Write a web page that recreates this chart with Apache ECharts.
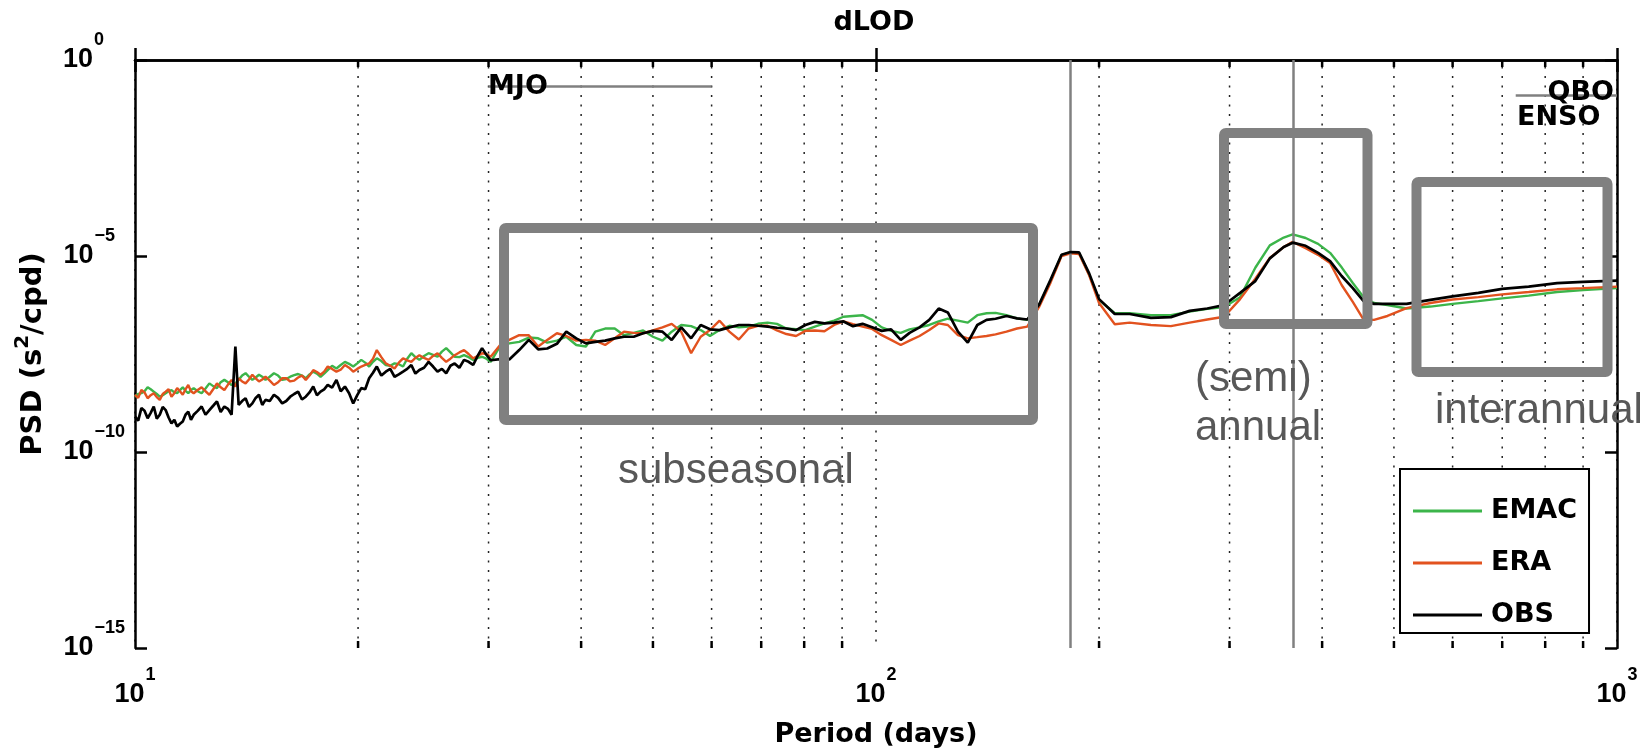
<!DOCTYPE html>
<html>
<head>
<meta charset="utf-8">
<title>dLOD</title>
<script src="https://cdn.jsdelivr.net/npm/echarts@6.0.0/dist/echarts.min.js"></script>
<style>
  html, body { margin: 0; padding: 0; background: #fff; }
  #chart { width: 1652px; height: 755px; }
</style>
</head>
<body>
<div id="chart"></div>
<script>
// period axis (days), shared by the three spectra
const periodDays = [
  10.0, 10.1, 10.2, 10.3, 10.4, 10.5, 10.6, 10.7, 10.8, 10.9, 11.0, 11.1, 11.2, 11.3, 11.4, 11.5, 11.6, 11.7, 11.8, 11.9, 12.0,
  12.15, 12.3, 12.45, 12.6, 12.75, 12.9, 13.05, 13.2, 13.35, 13.5, 13.66, 13.8,
  13.95, 14.1, 14.25, 14.4, 14.55, 14.7, 14.85, 15.0,
  15.2, 15.4, 15.6, 15.8, 16.0, 16.2, 16.4, 16.6, 16.8, 17.0, 17.2, 17.4, 17.6, 17.8, 18.0, 18.2,
  18.45, 18.7, 18.95, 19.2, 19.45, 19.7, 19.95, 20.2, 20.45, 20.7, 20.95, 21.2,
  21.5, 21.8, 22.1, 22.4, 22.7, 23.0, 23.3, 23.6, 23.9, 24.2,
  24.55, 24.9, 25.25, 25.6, 25.95, 26.3, 26.65, 27.0,
  27.4, 27.8, 28.2, 28.6, 29.0, 29.4, 29.8, 30.2,
  31.1, 32.0, 33.0, 34.0, 35.0, 36.0, 37.1, 38.2, 39.4, 40.6, 41.8, 43.1, 44.4, 45.7, 47.1, 48.5, 50.0, 51.5,
  53.0, 54.6, 56.3, 58.0, 59.7, 61.5, 63.4, 65.3, 67.3, 69.3, 71.4, 73.5, 75.7, 78.0, 80.3, 82.7, 85.2, 87.8,
  90.4, 93.1, 95.9, 98.8, 101.8, 104.8, 108, 111, 114.5, 118, 121.5, 125, 129, 133, 137, 141, 145, 150, 155, 160,
  166, 172, 178, 183, 188, 194, 200, 210, 220, 235, 250, 265, 280, 295, 310, 325, 340, 355, 365, 380, 395,
  410, 425, 440, 455, 470, 490, 520, 560, 600, 650, 700, 760, 830, 900, 1000
];

// log10 of PSD (s^2/cpd)
const emacLog10Psd = [
  -8.59, -8.52, -8.50, -8.45, -8.35, -8.40, -8.46, -8.52, -8.59, -8.55, -8.50, -8.45, -8.42, -8.48, -8.50, -8.42, -8.35, -8.44, -8.50, -8.42, -8.37,
  -8.45, -8.50, -8.38, -8.25, -8.32, -8.37, -8.22, -8.16, -8.22, -8.29, -8.25, -8.16,
  -8.05, -7.99, -8.08, -8.16, -8.10, -8.03, -8.08, -8.16,
  -8.08, -7.99, -8.05, -8.16, -8.14, -8.08, -8.04, -8.01, -8.05, -8.12, -8.02, -7.95, -8.00, -8.08, -8.00, -7.91,
  -7.80, -7.87, -7.78, -7.70, -7.75, -7.82, -7.74, -7.65, -7.72, -7.82, -7.70, -7.61,
  -7.68, -7.78, -7.80, -7.74, -7.76, -7.82, -7.62, -7.48, -7.58, -7.65,
  -7.55, -7.48, -7.52, -7.57, -7.44, -7.35, -7.46, -7.57,
  -7.58, -7.53, -7.58, -7.65, -7.60, -7.57, -7.62, -7.70,
  -7.30, -7.23, -7.19, -7.08, -7.10, -7.21, -7.16, -7.06, -7.27, -7.31, -6.93, -6.85, -6.85, -7.02, -6.96, -6.90, -7.06, -7.16,
  -6.93, -6.76, -6.79, -6.89, -7.04, -6.89, -6.78, -6.82, -6.80, -6.73, -6.70, -6.73, -6.85, -6.87, -6.89, -6.80, -6.72, -6.65,
  -6.55, -6.53, -6.51, -6.63, -6.82, -6.91, -6.96, -6.87, -6.82, -6.76, -6.67, -6.60, -6.65, -6.70, -6.51, -6.46, -6.45, -6.51, -6.59, -6.63,
  -6.25, -5.63, -4.98, -4.90, -4.93, -5.48, -6.12, -6.46, -6.46, -6.51, -6.51, -6.42, -6.35, -6.30, -6.05, -5.30, -4.73, -4.53, -4.45, -4.54, -4.69,
  -4.92, -5.29, -5.69, -6.05, -6.20, -6.25, -6.34, -6.29, -6.22, -6.15, -6.08, -6.01, -5.92, -5.87, -5.82
];

const eraLog10Psd = [
  -8.54, -8.62, -8.42, -8.48, -8.63, -8.55, -8.50, -8.60, -8.67, -8.52, -8.46, -8.40, -8.59, -8.50, -8.37, -8.45, -8.54, -8.40, -8.29, -8.45, -8.50,
  -8.42, -8.35, -8.45, -8.54, -8.40, -8.25, -8.35, -8.42, -8.28, -8.16, -8.33, -8.12,
  -8.20, -8.25, -8.15, -8.03, -8.12, -8.20, -8.15, -8.08,
  -8.18, -8.29, -8.22, -8.12, -8.12, -8.20, -8.18, -8.10, -8.05, -8.16, -8.05, -7.91, -7.96, -8.03, -7.95, -7.82,
  -7.88, -7.95, -7.90, -7.78, -7.85, -7.95, -7.88, -7.82, -7.78, -7.74, -7.62, -7.40,
  -7.58, -7.74, -7.80, -7.87, -7.72, -7.61, -7.66, -7.70, -7.60, -7.53,
  -7.60, -7.65, -7.55, -7.48, -7.60, -7.70, -7.62, -7.53,
  -7.46, -7.40, -7.50, -7.61, -7.55, -7.48, -7.50, -7.57,
  -7.27, -7.14, -7.02, -7.02, -7.31, -7.14, -6.97, -7.04, -7.16, -7.14, -7.16, -7.27, -7.10, -6.93, -6.96, -6.97, -6.90, -6.82,
  -6.73, -6.93, -7.48, -7.06, -6.89, -6.65, -6.93, -7.13, -6.85, -6.78, -6.78, -6.90, -6.99, -7.04, -6.91, -6.90, -6.92, -6.76,
  -6.67, -6.74, -6.80, -6.86, -7.02, -7.14, -7.27, -7.16, -7.04, -6.89, -6.72, -6.76, -7.02, -7.10, -7.07, -7.04, -7.00, -6.93, -6.85, -6.80,
  -6.30, -5.68, -5.00, -4.93, -4.95, -5.50, -6.20, -6.74, -6.70, -6.76, -6.79, -6.70, -6.62, -6.55, -6.10, -5.58, -5.05, -4.77, -4.64, -4.80, -4.97,
  -5.18, -5.74, -6.17, -6.62, -6.63, -6.53, -6.33, -6.20, -6.11, -6.05, -5.98, -5.92, -5.85, -5.82, -5.78
];

const obsLog10Psd = [
  -9.10, -9.20, -8.88, -8.95, -9.14, -9.00, -8.84, -9.15, -9.05, -8.85, -8.93, -9.12, -9.27, -9.18, -9.35, -9.28, -9.22, -9.05, -8.97, -9.18, -9.05,
  -8.95, -8.84, -9.05, -8.93, -8.82, -8.71, -8.98, -8.84, -8.90, -9.05, -7.31, -8.80,
  -8.70, -8.63, -8.85, -8.76, -8.62, -8.54, -8.80, -8.67,
  -8.70, -8.54, -8.62, -8.76, -8.70, -8.59, -8.52, -8.46, -8.66, -8.59, -8.48, -8.33, -8.55, -8.46, -8.40, -8.29,
  -8.36, -8.16, -8.45, -8.33, -8.50, -8.76, -8.55, -8.37, -8.40, -8.12, -7.98, -7.82,
  -8.05, -7.95, -7.88, -8.08, -8.02, -7.95, -7.88, -7.78, -8.00, -7.91,
  -7.85, -7.70, -7.82, -7.95, -7.88, -7.99, -7.80, -7.74,
  -7.85, -7.65, -7.70, -7.78, -7.55, -7.35, -7.52, -7.66,
  -7.63, -7.64, -7.40, -7.14, -7.38, -7.36, -7.24, -6.93, -7.10, -7.23, -7.19, -7.16, -7.10, -7.06, -7.06, -6.97, -6.91, -6.93,
  -7.14, -6.82, -7.10, -6.76, -6.87, -6.89, -6.82, -6.76, -6.76, -6.78, -6.80, -6.83, -6.85, -6.89, -6.76, -6.68, -6.72, -6.70,
  -6.67, -6.79, -6.73, -6.82, -6.91, -6.87, -7.14, -6.96, -6.82, -6.63, -6.34, -6.44, -6.93, -7.21, -6.76, -6.63, -6.60, -6.53, -6.59, -6.62,
  -6.24, -5.61, -4.97, -4.90, -4.91, -5.45, -6.10, -6.48, -6.48, -6.58, -6.56, -6.40, -6.34, -6.25, -5.94, -5.64, -5.06, -4.77, -4.66, -4.74, -4.92,
  -5.13, -5.51, -5.82, -6.15, -6.22, -6.22, -6.22, -6.12, -6.03, -5.94, -5.84, -5.78, -5.69, -5.66, -5.63
];

// minor period gridlines
const minorTickPeriods = [20, 30, 40, 50, 60, 70, 80, 90, 200, 300, 400, 500, 600, 700, 800, 900];

// reference periods (days)
const semiannualPeriod = 182.625;
const annualPeriod = 365.25;
const mjoBand = [30, 60];
const ensoBand = [730, 1000];

const seriesNames = ['EMAC', 'ERA', 'OBS'];
const seriesColors = ['#3cb54a', '#e2521f', '#000000'];

const LABEL_FONT = 'DejaVu Sans';
const NUM_FONT = 'Liberation Sans';

function pairs(vals) {
  return periodDays.map((p, i) => [p, vals[i]]);
}

function expStyle(padRight) {
  return {
    fontFamily: NUM_FONT, fontWeight: 'bold', fontSize: 18, color: '#000',
    lineHeight: 18, verticalAlign: 'top', padding: [0, padRight, 0, 1]
  };
}

const baseStyle = { fontFamily: NUM_FONT, fontWeight: 'bold', fontSize: 27, color: '#000', lineHeight: 58 };

function yTickLabel(v) {
  if (v === 0) return '{b|10}{e1|0}';
  if (v === -5) return '{b|10}{e2|\u22125}';
  return '{b|10}{e3|\u2212' + Math.abs(v) + '}';
}

const el = document.getElementById('chart');
const chart = echarts.init(el, null, { renderer: 'canvas' });

const axisLineStyle = { color: '#000', width: 2.5 };

chart.setOption({
  animation: false,
  legend: {
    orient: 'vertical',
    left: 1400,
    top: 469,
    data: seriesNames.map(n => ({ name: n, icon: 'rect' })),
    itemWidth: 69,
    itemHeight: 3,
    itemGap: 22,
    padding: [27, 12, 3, 13],
    backgroundColor: '#fff',
    borderColor: '#000',
    borderWidth: 2,
    selectedMode: false,
    textStyle: { fontFamily: LABEL_FONT, fontWeight: 'bold', fontSize: 27, color: '#000', lineHeight: 30, padding: [0, 0, 0, 4] }
  },
  grid: { left: 135, right: 35, top: 60, bottom: 107, containLabel: false },
  xAxis: [
    {
      type: 'log', logBase: 10, min: 10, max: 1000, position: 'bottom',
      name: 'Period (days)', nameLocation: 'middle', nameGap: 73,
      nameTextStyle: { fontFamily: LABEL_FONT, fontWeight: 'bold', fontSize: 27, color: '#000' },
      axisLine: { lineStyle: axisLineStyle },
      axisTick: { inside: true, length: 12, lineStyle: axisLineStyle },
      axisLabel: {
        margin: 18,
        formatter: v => '{b|10}{s|' + Math.round(Math.log10(v)) + '}',
        rich: { b: baseStyle, s: expStyle(0) }
      },
      splitLine: { show: true, lineStyle: { color: '#222', width: 1.5, type: [2, 7.5] } }
    },
    {
      type: 'log', logBase: 10, min: 10, max: 1000, position: 'top',
      axisLine: { lineStyle: axisLineStyle },
      axisTick: { inside: true, length: 12, lineStyle: axisLineStyle },
      axisLabel: { show: false },
      splitLine: { show: false }
    }
  ],
  yAxis: [
    {
      type: 'value', min: -15, max: 0, interval: 5, position: 'left',
      name: '{n|PSD (s}{s|2}{n|/cpd)}', nameLocation: 'middle', nameRotate: 90, nameGap: 82,
      nameTextStyle: {
        rich: {
          n: { fontFamily: LABEL_FONT, fontWeight: 'bold', fontSize: 29, color: '#000', lineHeight: 40 },
          s: { fontFamily: LABEL_FONT, fontWeight: 'bold', fontSize: 20, color: '#000', lineHeight: 20, verticalAlign: 'top' }
        }
      },
      axisLine: { lineStyle: axisLineStyle },
      axisTick: { inside: true, length: 12, lineStyle: axisLineStyle },
      axisLabel: {
        margin: 10,
        formatter: yTickLabel,
        rich: { b: baseStyle, e1: expStyle(21), e2: expStyle(10), e3: expStyle(0) }
      },
      splitLine: { show: false }
    },
    {
      type: 'value', min: -15, max: 0, interval: 5, position: 'right',
      axisLine: { lineStyle: axisLineStyle },
      axisTick: { inside: true, length: 12, lineStyle: axisLineStyle },
      axisLabel: { show: false },
      splitLine: { show: false }
    }
  ],
  series: [
    {
      type: 'custom',
      name: 'minor',
      silent: true,
      z: 1,
      data: minorTickPeriods.map(p => [p, -15]),
      encode: { x: 0, y: 1 },
      renderItem: (params, api) => {
        const p = api.value(0);
        const top = api.coord([p, 0]);
        const bot = api.coord([p, -15]);
        const x = top[0];
        return {
          type: 'group',
          children: [
            { type: 'line', shape: { x1: x, y1: bot[1], x2: x, y2: top[1] }, style: { stroke: '#222', lineWidth: 1.5, lineDash: [2, 7.5] } },
            { type: 'line', shape: { x1: x, y1: bot[1], x2: x, y2: bot[1] - 7 }, style: { stroke: '#000', lineWidth: 2.5 } },
            { type: 'line', shape: { x1: x, y1: top[1], x2: x, y2: top[1] + 7 }, style: { stroke: '#000', lineWidth: 2.5 } }
          ]
        };
      }
    },
    {
      name: 'EMAC', type: 'line', data: pairs(emacLog10Psd), symbol: 'none', z: 3,
      lineStyle: { color: seriesColors[0], width: 2.4 }, itemStyle: { color: seriesColors[0] }
    },
    {
      name: 'ERA', type: 'line', data: pairs(eraLog10Psd), symbol: 'none', z: 4,
      lineStyle: { color: seriesColors[1], width: 2.4 }, itemStyle: { color: seriesColors[1] }
    },
    {
      name: 'OBS', type: 'line', data: pairs(obsLog10Psd), symbol: 'none', z: 5,
      lineStyle: { color: seriesColors[2], width: 2.7 }, itemStyle: { color: seriesColors[2] },
      markLine: {
        silent: true,
        symbol: ['none', 'none'],
        label: { show: false },
        lineStyle: { color: '#808080', width: 2.5, type: 'solid' },
        data: [
          { xAxis: semiannualPeriod },
          { xAxis: annualPeriod },
          [{ coord: [mjoBand[0], -0.66] }, { coord: [mjoBand[1], -0.66] }],
          [{ coord: [ensoBand[0], -0.89] }, { coord: [ensoBand[1], -0.89] }]
        ]
      }
    }
  ],
  graphic: [
    { type: 'rect', z: 100, silent: true, shape: { x: 504, y: 228, width: 529, height: 192, r: 2 }, style: { fill: 'none', stroke: '#808080', lineWidth: 10, lineJoin: 'round' } },
    { type: 'rect', z: 100, silent: true, shape: { x: 1224, y: 133, width: 143.5, height: 191, r: 2 }, style: { fill: 'none', stroke: '#808080', lineWidth: 10, lineJoin: 'round' } },
    { type: 'rect', z: 100, silent: true, shape: { x: 1416.5, y: 182, width: 191, height: 190, r: 2 }, style: { fill: 'none', stroke: '#808080', lineWidth: 10, lineJoin: 'round' } },
    { type: 'text', z: 100, silent: true, style: { text: 'dLOD', x: 874, y: 23, fontFamily: LABEL_FONT, fontWeight: 'bold', fontSize: 27, fill: '#000', align: 'center', verticalAlign: 'middle' } },
    { type: 'text', z: 100, silent: true, style: { text: 'subseasonal', x: 618, y: 471, fontFamily: NUM_FONT, fontSize: 42, fill: '#585858', align: 'left', verticalAlign: 'middle' } },
    { type: 'text', z: 100, silent: true, style: { text: '(semi)', x: 1195, y: 379, fontFamily: NUM_FONT, fontSize: 42, fill: '#585858', align: 'left', verticalAlign: 'middle' } },
    { type: 'text', z: 100, silent: true, style: { text: 'annual', x: 1195, y: 428, fontFamily: NUM_FONT, fontSize: 42, fill: '#585858', align: 'left', verticalAlign: 'middle' } },
    { type: 'text', z: 100, silent: true, style: { text: 'interannual', x: 1435, y: 411, fontFamily: NUM_FONT, fontSize: 42, fill: '#585858', align: 'left', verticalAlign: 'middle' } },
    { type: 'text', z: 100, silent: true, style: { text: 'MJO', x: 488, y: 87, fontFamily: LABEL_FONT, fontWeight: 'bold', fontSize: 27, fill: '#000', align: 'left', verticalAlign: 'middle' } },
    { type: 'text', z: 100, silent: true, style: { text: 'QBO', x: 1614, y: 93, fontFamily: LABEL_FONT, fontWeight: 'bold', fontSize: 27, fill: '#000', align: 'right', verticalAlign: 'middle' } },
    { type: 'text', z: 100, silent: true, style: { text: 'ENSO', x: 1517, y: 118, fontFamily: LABEL_FONT, fontWeight: 'bold', fontSize: 27, fill: '#000', align: 'left', verticalAlign: 'middle' } }
  ]
});

window.addEventListener('resize', () => chart.resize());
</script>
</body>
</html>
